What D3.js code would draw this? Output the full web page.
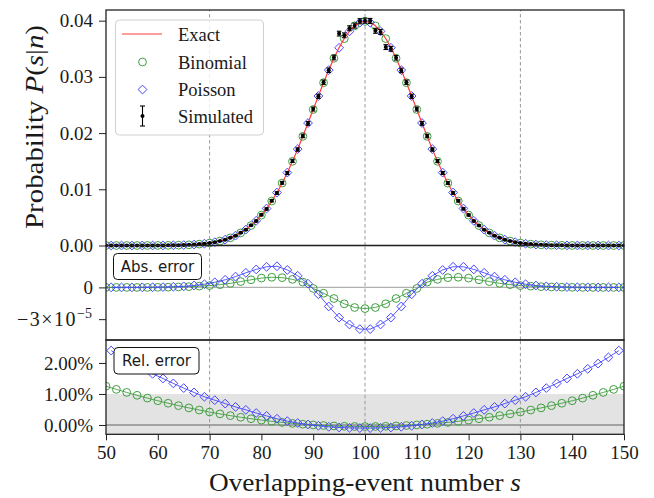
<!DOCTYPE html>
<html>
<head>
<meta charset="utf-8">
<script src="https://cdn.jsdelivr.net/npm/d3@7"></script>
<style>
    body { margin: 0; background: #fff; }
    svg text { font-family: "Liberation Serif", "Times New Roman", serif; fill: #1a1a1a; }
    .tick line { stroke: #222; stroke-width: 1; }
    .tick text { font-size: 19px; }
    .box-label { font-family: "DejaVu Sans", sans-serif !important; font-size: 15px; }
</style>
</head>
<body>
<svg id="chart" width="654" height="498"></svg>
<script>
// overlapping-event number s
const sAll = [50, 51, 52, 53, 54, 55, 56, 57, 58, 59, 60, 61, 62, 63, 64, 65, 66, 67, 68, 69,
    70, 71, 72, 73, 74, 75, 76, 77, 78, 79, 80, 81, 82, 83, 84, 85, 86, 87, 88, 89,
    90, 91, 92, 93, 94, 95, 96, 97, 98, 99, 100, 101, 102, 103, 104, 105, 106, 107, 108, 109,
    110, 111, 112, 113, 114, 115, 116, 117, 118, 119, 120, 121, 122, 123, 124, 125, 126, 127, 128, 129,
    130, 131, 132, 133, 134, 135, 136, 137, 138, 139, 140, 141, 142, 143, 144, 145, 146, 147, 148, 149, 150];
const sEven = [50, 52, 54, 56, 58, 60, 62, 64, 66, 68, 70, 72, 74, 76, 78, 80, 82, 84, 86, 88,
    90, 92, 94, 96, 98, 100, 102, 104, 106, 108, 110, 112, 114, 116, 118, 120, 122, 124, 126, 128,
    130, 132, 134, 136, 138, 140, 142, 144, 146, 148, 150];
const sOdd = [51, 53, 55, 57, 59, 61, 63, 65, 67, 69, 71, 73, 75, 77, 79, 81, 83, 85, 87, 89,
    91, 93, 95, 97, 99, 101, 103, 105, 107, 109, 111, 113, 115, 117, 119, 121, 123, 125, 127, 129,
    131, 133, 135, 137, 139, 141, 143, 145, 147, 149];

// exact P(s|n), one value per s in sAll
const exactP = [0, 0, 0, 0.000001, 0.000001, 0.000002, 0.000002, 0.000004, 0.000006, 0.000009,
    0.000013, 0.00002, 0.000029, 0.000042, 0.000061, 0.000087, 0.00012, 0.00017, 0.00024, 0.00033,
    0.00044, 0.00059, 0.00079, 0.00104, 0.00136, 0.00175, 0.00224, 0.00283, 0.00355, 0.0044,
    0.0054, 0.00656, 0.0079, 0.0094, 0.01109, 0.01295, 0.01497, 0.01714, 0.01942, 0.02179,
    0.0242, 0.02661, 0.02897, 0.03123, 0.03332, 0.03521, 0.03683, 0.03814, 0.0391, 0.03969,
    0.03989,
    0.03969, 0.0391, 0.03814, 0.03683, 0.03521, 0.03332, 0.03123, 0.02897, 0.02661, 0.0242,
    0.02179, 0.01942, 0.01714, 0.01497, 0.01295, 0.01109, 0.0094, 0.0079, 0.00656, 0.0054,
    0.0044, 0.00355, 0.00283, 0.00224, 0.00175, 0.00136, 0.00104, 0.00079, 0.00059, 0.00044,
    0.00033, 0.00024, 0.00017, 0.00012, 0.000087, 0.000061, 0.000042, 0.000029, 0.00002, 0.000013,
    0.000009, 0.000006, 0.000004, 0.000002, 0.000002, 0.000001, 0.000001, 0, 0, 0];

// binomial approximation at even s
const binomP = [0, 0, 0.000001, 0.000002, 0.000006, 0.000013, 0.000029, 0.000061, 0.00012, 0.00024,
    0.00044, 0.00079, 0.00136, 0.00224, 0.00355, 0.00541, 0.00791, 0.0111, 0.01498, 0.01942,
    0.0242, 0.02897, 0.03331, 0.03681, 0.03908, 0.03987, 0.03908, 0.03681, 0.03331, 0.02897,
    0.0242, 0.01942, 0.01498, 0.0111, 0.00791, 0.00541, 0.00355, 0.00224, 0.00136, 0.00079,
    0.00044, 0.00024, 0.00012, 0.000061, 0.000029, 0.000013, 0.000006, 0.000002, 0.000001, 0, 0];

// poisson approximation at odd s
const poisP = [0, 0.000001, 0.000002, 0.000004, 0.000009, 0.00002, 0.000042, 0.000087, 0.00017, 0.00033,
    0.00059, 0.00104, 0.00175, 0.00283, 0.0044, 0.00658, 0.00942, 0.01297, 0.01715, 0.02179,
    0.0266, 0.03121, 0.03518, 0.0381, 0.03965, 0.03965, 0.0381, 0.03518, 0.03121, 0.0266,
    0.02179, 0.01715, 0.01297, 0.00942, 0.00658, 0.0044, 0.00283, 0.00175, 0.00104, 0.00059,
    0.00033, 0.00017, 0.000087, 0.000042, 0.00002, 0.000009, 0.000004, 0.000002, 0.000001, 0];

// simulated histogram and its error bars, one value per s in sAll
const simP = [0, 0, 0, 0.000002, 0, 0.000003, 0.000001, 0.000004, 0.000006, 0.000011,
    0.000012, 0.000022, 0.000027, 0.000045, 0.000058, 0.000091, 0.00012, 0.00016, 0.00025, 0.00032,
    0.00045, 0.00057, 0.00081, 0.00102, 0.00139, 0.00172, 0.00227, 0.0028, 0.00359, 0.00436,
    0.00545, 0.00651, 0.00797, 0.00934, 0.01115, 0.01288, 0.01505, 0.01708, 0.0195, 0.02172,
    0.02427, 0.02655, 0.02905, 0.03118, 0.03345, 0.0377, 0.0374, 0.03865, 0.03912, 0.0399,
    0.04,
    0.03995, 0.0382, 0.038, 0.0353, 0.035, 0.0334, 0.03115, 0.02905, 0.02655, 0.02428,
    0.02172, 0.01948, 0.01708, 0.01502, 0.0129, 0.01112, 0.00935, 0.00794, 0.00652, 0.00543,
    0.00437, 0.00357, 0.00281, 0.00226, 0.00173, 0.00137, 0.00103, 0.0008, 0.00058, 0.00045,
    0.00032, 0.00025, 0.00016, 0.00012, 0.000085, 0.00006, 0.00004, 0.00003, 0.00002, 0.000013,
    0.000008, 0.000006, 0.000004, 0.000002, 0.000002, 0.000001, 0, 0, 0, 0];
const simErr = [0.00001, 0.00001, 0.00001, 0.00001, 0.00001, 0.00001, 0.00001, 0.00001, 0.00001, 0.00001,
    0.00001, 0.00001, 0.00001, 0.00001, 0.00001, 0.00002, 0.00002, 0.00003, 0.00003, 0.00004,
    0.00005, 0.00005, 0.00006, 0.00007, 0.00008, 0.00009, 0.00011, 0.00012, 0.00013, 0.00015,
    0.00017, 0.00018, 0.0002, 0.00022, 0.00024, 0.00026, 0.00028, 0.00029, 0.00031, 0.00033,
    0.00035, 0.00037, 0.00038, 0.0004, 0.00041, 0.00042, 0.00043, 0.00044, 0.00044, 0.00045,
    0.00045,
    0.00045, 0.00044, 0.00044, 0.00043, 0.00042, 0.00041, 0.0004, 0.00038, 0.00037, 0.00035,
    0.00033, 0.00031, 0.00029, 0.00028, 0.00026, 0.00024, 0.00022, 0.0002, 0.00018, 0.00017,
    0.00015, 0.00013, 0.00012, 0.00011, 0.00009, 0.00008, 0.00007, 0.00006, 0.00005, 0.00005,
    0.00004, 0.00003, 0.00003, 0.00002, 0.00002, 0.00001, 0.00001, 0.00001, 0.00001, 0.00001,
    0.00001, 0.00001, 0.00001, 0.00001, 0.00001, 0.00001, 0.00001, 0.00001, 0.00001, 0.00001];

// absolute error, in units of 1e-5
const absBinom = [0, 0, 0, 0, 0, 0.01, 0.02, 0.04, 0.07, 0.12,
    0.17, 0.26, 0.38, 0.55, 0.72, 0.88, 0.96, 0.92, 0.76, 0.5,
    -0.1, -0.55, -1.05, -1.55, -1.9, -2.0, -1.9, -1.55, -1.05, -0.55,
    -0.1, 0.5, 0.76, 0.92, 0.96, 0.88, 0.72, 0.55, 0.38, 0.26,
    0.17, 0.12, 0.07, 0.04, 0.02, 0.01, 0, 0, 0, 0, 0];
const absPois = [0, 0, 0, 0.01, 0.015, 0.03, 0.06, 0.1, 0.18, 0.3,
    0.48, 0.72, 1.02, 1.38, 1.7, 1.95, 2.0, 1.65, 1.1, 0.35,
    -0.65, -1.8, -2.85, -3.5, -3.94, -3.94, -3.5, -2.85, -1.8, -0.65,
    0.35, 1.1, 1.65, 1.95, 1.95, 1.7, 1.38, 1.02, 0.72, 0.48,
    0.3, 0.18, 0.1, 0.06, 0.03, 0.015, 0.01, 0, 0, 0];

// relative error, in percent
const relBinom = [1.25, 1.148, 1.05, 0.957, 0.867, 0.782, 0.701, 0.624, 0.551, 0.482,
    0.418, 0.358, 0.302, 0.25, 0.202, 0.158, 0.118, 0.083, 0.052, 0.025,
    0.002, -0.017, -0.031, -0.042, -0.048, -0.05, -0.048, -0.042, -0.031, -0.017,
    0.002, 0.025, 0.052, 0.083, 0.118, 0.158, 0.202, 0.25, 0.302, 0.358,
    0.418, 0.482, 0.551, 0.624, 0.701, 0.782, 0.867, 0.957, 1.05, 1.148, 1.25];
const relPois = [2.4, 2.18, 1.98, 1.81, 1.65, 1.5, 1.34, 1.19, 1.05, 0.91,
    0.8, 0.69, 0.583, 0.488, 0.386, 0.293, 0.202, 0.124, 0.064, 0.016,
    -0.024, -0.058, -0.081, -0.092, -0.099, -0.099, -0.092, -0.081, -0.058, -0.024,
    0.016, 0.064, 0.124, 0.202, 0.293, 0.386, 0.488, 0.583, 0.69, 0.8,
    0.91, 1.05, 1.19, 1.34, 1.5, 1.65, 1.81, 1.98, 2.18, 2.4];

const xTicks = [50, 60, 70, 80, 90, 100, 110, 120, 130, 140, 150];
const topTicks = [0, 0.01, 0.02, 0.03, 0.04];
const relTicks = [0, 1, 2];
const guideLines = [70, 100, 130];
const legendItems = ["Exact", "Binomial", "Poisson", "Simulated"];

const colBinom = "#3f9f3f";
const colPois = "#4646ff";
const colExact = "#ff3b3b";

var svg = d3.select("#chart");
var left = 106, right = 624;

var x = d3.scaleLinear().domain([50, 150]).range([left, right]);
var yTop = d3.scaleLinear().domain([0, 0.0419]).range([245.5, 10]);
var yAbs = d3.scaleLinear().domain([-4.97, 3.96]).range([340, 245.5]);
var yRel = d3.scaleLinear().domain([-0.3, 2.74]).range([434.3, 340]);

function diamond(r) {
    return "M0," + (-r) + "L" + r + ",0L0," + r + "L" + (-r) + ",0Z";
}

function addClip(id, y0, y1) {
    svg.append("clipPath").attr("id", id)
        .append("rect")
        .attr("x", left).attr("y", y0)
        .attr("width", right - left).attr("height", y1 - y0);
}

function guides(g, y) {
    g.selectAll(".guide").data(guideLines).enter().append("line")
        .attr("x1", d => x(d)).attr("x2", d => x(d))
        .attr("y1", y.range()[0]).attr("y2", y.range()[1])
        .attr("stroke", "#9a9a9a").attr("stroke-width", 1)
        .attr("stroke-dasharray", "3.5,2.5");
}

function zeroLine(g, y, color) {
    g.append("line")
        .attr("x1", left).attr("x2", right)
        .attr("y1", y(0)).attr("y2", y(0))
        .attr("stroke", color).attr("stroke-width", 1.3);
}

function frame(y) {
    svg.append("rect")
        .attr("x", left).attr("y", y.range()[1])
        .attr("width", right - left).attr("height", y.range()[0] - y.range()[1])
        .attr("fill", "none").attr("stroke", "#222").attr("stroke-width", 1.3);
}

function labelBox(text, bx, by, bw, bh) {
    svg.append("rect")
        .attr("x", bx).attr("y", by).attr("width", bw).attr("height", bh)
        .attr("rx", 4).attr("fill", "#fff").attr("stroke", "#111").attr("stroke-width", 1);
    svg.append("text")
        .attr("class", "box-label")
        .attr("x", bx + bw / 2).attr("y", by + bh / 2 + 5.5)
        .attr("text-anchor", "middle")
        .text(text);
}

// sampled series with marker + thin connecting line
function markerSeries(g, xs, ys, y, color, shape, withLine) {
    var pts = xs.map((s, i) => ({ s: s, v: ys[i] }));
    if (withLine) {
        g.append("path")
            .datum(pts)
            .attr("fill", "none")
            .attr("stroke", color)
            .attr("stroke-width", 1)
            .attr("stroke-opacity", 0.9)
            .attr("d", d3.line().x(d => x(d.s)).y(d => y(d.v)));
    }
    var sel = g.selectAll(null).data(pts).enter();
    if (shape === "circle") {
        sel.append("circle")
            .attr("cx", d => x(d.s)).attr("cy", d => y(d.v))
            .attr("r", 3.9)
            .attr("fill", "none").attr("stroke", color).attr("stroke-width", 1);
    } else {
        sel.append("path")
            .attr("transform", d => "translate(" + x(d.s) + "," + y(d.v) + ")")
            .attr("d", diamond(4.4))
            .attr("fill", "none").attr("stroke", color).attr("stroke-width", 1);
    }
}

addClip("clipTop", 0, 252);
addClip("clipAbs", 245.5, 340);
addClip("clipRel", 340, 434.3);

// ---------- top panel ----------
var gTop = svg.append("g").attr("clip-path", "url(#clipTop)");
guides(gTop, yTop);
markerSeries(gTop, sEven, binomP, yTop, colBinom, "circle", false);
markerSeries(gTop, sOdd, poisP, yTop, colPois, "diamond", false);

gTop.append("path")
    .datum(sAll.map((s, i) => ({ s: s, v: exactP[i] })))
    .attr("fill", "none")
    .attr("stroke", colExact)
    .attr("stroke-width", 1.2)
    .attr("d", d3.line().x(d => x(d.s)).y(d => yTop(d.v)));

var sim = sAll.map((s, i) => ({ s: s, v: simP[i], e: simErr[i] }));
var simG = gTop.selectAll(".sim").data(sim).enter().append("g");
simG.append("line")
    .attr("x1", d => x(d.s)).attr("x2", d => x(d.s))
    .attr("y1", d => yTop(d.v - d.e)).attr("y2", d => yTop(d.v + d.e))
    .attr("stroke", "#000").attr("stroke-width", 1.1);
simG.append("line")
    .attr("x1", d => x(d.s) - 2.3).attr("x2", d => x(d.s) + 2.3)
    .attr("y1", d => yTop(d.v - d.e)).attr("y2", d => yTop(d.v - d.e))
    .attr("stroke", "#000").attr("stroke-width", 1.1);
simG.append("line")
    .attr("x1", d => x(d.s) - 2.3).attr("x2", d => x(d.s) + 2.3)
    .attr("y1", d => yTop(d.v + d.e)).attr("y2", d => yTop(d.v + d.e))
    .attr("stroke", "#000").attr("stroke-width", 1.1);
simG.append("circle")
    .attr("cx", d => x(d.s)).attr("cy", d => yTop(d.v))
    .attr("r", 2).attr("fill", "#000");

// legend
var lg = svg.append("g");
lg.append("rect")
    .attr("x", 115.5).attr("y", 20).attr("width", 148).attr("height", 115)
    .attr("rx", 4).attr("fill", "#fff").attr("fill-opacity", 0.8)
    .attr("stroke", "#d0d0d0").attr("stroke-width", 1);
var rowY = [34, 62, 89.5, 116];
lg.append("line").attr("x1", 122).attr("x2", 162).attr("y1", rowY[0]).attr("y2", rowY[0])
    .attr("stroke", colExact).attr("stroke-width", 1.2);
lg.append("circle").attr("cx", 142.5).attr("cy", rowY[1]).attr("r", 3.9)
    .attr("fill", "none").attr("stroke", colBinom).attr("stroke-width", 1);
lg.append("path").attr("transform", "translate(142.5," + rowY[2] + ")").attr("d", diamond(4.4))
    .attr("fill", "none").attr("stroke", colPois).attr("stroke-width", 1);
lg.append("line").attr("x1", 142.5).attr("x2", 142.5).attr("y1", rowY[3] - 10).attr("y2", rowY[3] + 10)
    .attr("stroke", "#000").attr("stroke-width", 1.1);
lg.append("line").attr("x1", 140).attr("x2", 145).attr("y1", rowY[3] - 10).attr("y2", rowY[3] - 10)
    .attr("stroke", "#000").attr("stroke-width", 1.1);
lg.append("line").attr("x1", 140).attr("x2", 145).attr("y1", rowY[3] + 10).attr("y2", rowY[3] + 10)
    .attr("stroke", "#000").attr("stroke-width", 1.1);
lg.append("circle").attr("cx", 142.5).attr("cy", rowY[3]).attr("r", 2).attr("fill", "#000");
lg.selectAll(".lt").data(legendItems).enter().append("text")
    .attr("x", 178).attr("y", (d, i) => rowY[i] + 6.5)
    .attr("font-size", "18.5px")
    .text(d => d);

frame(yTop);
svg.append("g")
    .attr("transform", "translate(" + left + ",0)")
    .call(d3.axisLeft(yTop).tickValues(topTicks).tickFormat(d3.format(".2f")).tickSize(7).tickPadding(6))
    .call(g => g.select(".domain").remove());

// ---------- absolute error panel ----------
var gAbs = svg.append("g").attr("clip-path", "url(#clipAbs)");
zeroLine(gAbs, yAbs, "#b0b0b0");
guides(gAbs, yAbs);
markerSeries(gAbs, sEven, absBinom, yAbs, colBinom, "circle", true);
markerSeries(gAbs, sOdd, absPois, yAbs, colPois, "diamond", true);
labelBox("Abs. error", 113.5, 253.5, 88, 26);
frame(yAbs);
svg.append("g")
    .attr("transform", "translate(" + left + ",0)")
    .call(d3.axisLeft(yAbs).tickValues([0, -3]).tickFormat(d => d === 0 ? "0" : "").tickSize(7).tickPadding(6))
    .call(g => g.select(".domain").remove());
var sci = svg.append("text")
    .attr("x", 92).attr("y", yAbs(-3) + 7)
    .attr("text-anchor", "end")
    .attr("font-size", "20px");
sci.append("tspan").attr("letter-spacing", "1.5").text("\u22123\u00d710");
sci.append("tspan").attr("font-size", "14px").attr("dy", -8).text("\u22125");

// ---------- relative error panel ----------
var gRel = svg.append("g").attr("clip-path", "url(#clipRel)");
gRel.append("rect")
    .attr("x", left).attr("width", right - left)
    .attr("y", yRel(1)).attr("height", yRel(-1) - yRel(1))
    .attr("fill", "#e3e3e3");
zeroLine(gRel, yRel, "#8c8c8c");
guides(gRel, yRel);
markerSeries(gRel, sEven, relBinom, yRel, colBinom, "circle", true);
markerSeries(gRel, sOdd, relPois, yRel, colPois, "diamond", true);
labelBox("Rel. error", 114, 347.5, 85, 26.5);
frame(yRel);
svg.append("g")
    .attr("transform", "translate(" + left + ",0)")
    .call(d3.axisLeft(yRel).tickValues(relTicks).tickFormat(d => d3.format(".2f")(d) + "%").tickSize(7).tickPadding(6))
    .call(g => g.select(".domain").remove());
svg.append("g")
    .attr("transform", "translate(0," + yRel.range()[0] + ")")
    .call(d3.axisBottom(x).tickValues(xTicks).tickFormat(d3.format("d")).tickSize(6).tickPadding(5))
    .call(g => g.select(".domain").remove());

// ---------- axis titles ----------
var xt = svg.append("text")
    .attr("x", (left + right) / 2).attr("y", 491)
    .attr("text-anchor", "middle")
    .attr("font-size", "25px")
    .attr("textLength", 312).attr("lengthAdjust", "spacingAndGlyphs");
xt.append("tspan").text("Overlapping-event number ");
xt.append("tspan").attr("font-style", "italic").text("s");

var yt = svg.append("text")
    .attr("transform", "translate(43,127) rotate(-90)")
    .attr("text-anchor", "middle")
    .attr("font-size", "25px")
    .attr("textLength", 204).attr("lengthAdjust", "spacingAndGlyphs");
yt.append("tspan").text("Probability ");
yt.append("tspan").attr("font-style", "italic").text("P");
yt.append("tspan").text("(");
yt.append("tspan").attr("font-style", "italic").text("s");
yt.append("tspan").text("|");
yt.append("tspan").attr("font-style", "italic").text("n");
yt.append("tspan").text(")");
</script>
</body>
</html>
